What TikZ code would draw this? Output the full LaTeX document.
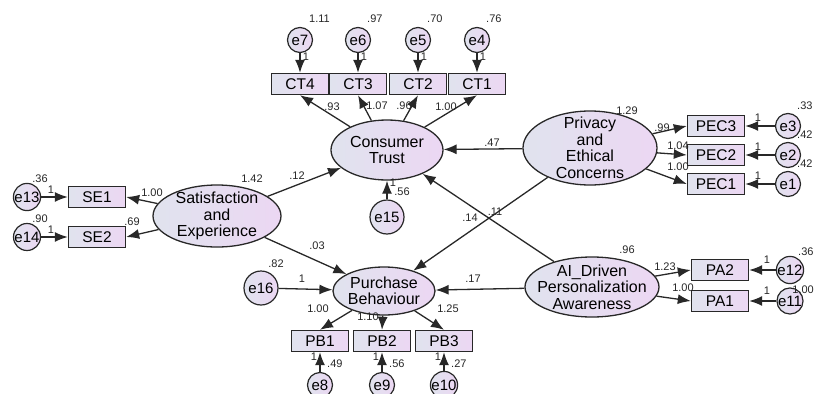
\documentclass[tikz,border=0pt]{standalone}
\usepackage{fontspec}
\setmainfont{Liberation Sans}
\usetikzlibrary{arrows.meta,shapes.geometric}
\definecolor{fillL}{RGB}{224,227,238}
\definecolor{fillR}{RGB}{236,215,243}
\definecolor{edge}{RGB}{40,40,40}

\begin{document}
\begin{tikzpicture}[x=1pt,y=-1pt,
  latent/.style={ellipse,draw=edge,line width=1.3pt,left color=fillL,right color=fillR,
    inner sep=0pt,label={[font=\fontsize{16}{16.5}\selectfont,align=center]center:#1}},
  indicator/.style={rectangle,draw=edge,line width=1.4pt,left color=fillL,right color=fillR,
    minimum width=57pt,minimum height=21pt,inner sep=0pt,font=\fontsize{15.5}{15.5}\selectfont},
  errvar/.style={circle,draw=edge,line width=1.2pt,left color=fillL,right color=fillR,
    minimum size=25pt,inner sep=0pt,font=\fontsize{15}{15}\selectfont},
  regpath/.style={-{Latex[length=13pt,width=10pt]},line width=1.3pt,draw=edge},
  num/.style={font=\fontsize{11}{11}\selectfont,inner sep=0pt,text=black!85}]
\useasboundingbox (0,0) rectangle (815,394);

% latent variables
\node[latent={Consumer\\Trust},minimum width=112pt,minimum height=60pt] (ct) at (387,150) {};
\node[latent={Satisfaction\\and\\Experience},minimum width=128pt,minimum height=62pt] (se) at (217,216) {};
\node[latent={Privacy\\and\\Ethical\\Concerns},minimum width=134pt,minimum height=74pt] (pec) at (590,148) {};
\node[latent={AI\_Driven\\Personalization\\Awareness},minimum width=134pt,minimum height=60pt] (ai) at (592,287) {};
\node[latent={Purchase\\Behaviour},minimum width=102pt,minimum height=48pt] (pb) at (384,291) {};

% residuals of the latents
\node[errvar,minimum size=34pt] (e15) at (387,217) {e15};
\node[errvar,minimum size=34pt] (e16) at (261,288) {e16};

% structural paths
\draw[regpath] (se) -- (ct);
\draw[regpath] (se) -- (pb);
\draw[regpath] (pec) -- (ct);
\draw[regpath] (pec) -- (pb);
\draw[regpath] (ai) -- (ct);
\draw[regpath] (ai) -- (pb);
\draw[regpath] (e15) -- (ct);
\draw[regpath] (e16) -- (pb);

% Consumer Trust items
\foreach \i/\x/\e/\v in {1/477/4/.76,2/418/5/.70,3/358/6/.97,4/300/7/1.11}
{
\node[indicator] (ct\i) at (\x,84) {CT\i};
\node[errvar] (e\e) at (\x,40) {e\e};
\draw[regpath] (e\e) -- (ct\i);
\draw[regpath] (ct) -- (ct\i.south);
\node[num] (one\e) at (\x+6,57) {1};
\node[num,anchor=west] (var\e) at (\x+9,19) {\v};
}

% Privacy items
\foreach \i/\y/\e/\v in {3/126/3/.33,2/155/2/.42,1/184/1/.42}
{
\node[indicator] (pec\i) at (716,\y) {PEC\i};
\node[errvar] (e\e) at (788,\y) {e\e};
\draw[regpath] (e\e) -- (pec\i);
\draw[regpath] (pec) -- (pec\i.west);
\node[num] (one\e) at (758,\y-8) {1};
\node[num,anchor=west] (var\e) at (797,\y-20) {\v};
}

% AI items
\foreach \i/\y/\e in {2/270/12,1/301/11}
{
\node[indicator] (pa\i) at (720,\y) {PA\i};
\node[errvar] (e\e) at (790,\y) {e\e};
\draw[regpath] (e\e) -- (pa\i);
\draw[regpath] (ai) -- (pa\i.west);
\node[num] (one\e) at (767,\y-10) {1};
}
\node[num,anchor=west] (var12) at (798,252) {.36};
\node[num,anchor=east] (var11) at (814,290) {1.00};

% Purchase items
\foreach \i/\x/\e/\v in {1/320/8/.49,2/382/9/.56,3/444/10/.27}
{
\node[indicator] (pb\i) at (\x,341) {PB\i};
\node[errvar] (e\e) at (\x,385) {e\e};
\draw[regpath] (e\e) -- (pb\i);
\draw[regpath] (pb) -- (pb\i.north);
\node[num] (one\e) at (\x-6,357) {1};
\node[num,anchor=west] (var\e) at (\x+7,364) {\v};
}

% Satisfaction items
\foreach \i/\y/\e/\v in {1/197/13/.36,2/237/14/.90}
{
\node[indicator] (se\i) at (97,\y) {SE\i};
\node[errvar] (e\e) at (27,\y) {e\e};
\draw[regpath] (e\e) -- (se\i);
\draw[regpath] (se) -- (se\i.east);
\node[num] (one\e) at (51,\y-7) {1};
\node[num] (var\e) at (40,\y-18) {\v};
}

% estimates
\foreach \x/\y/\t [count=\k] in {332/107/.93,377/106/1.07,404/106/.96,446/107/1.00,
  152/193/1.00,132/222/.69,662/128/.99,678/146/1.04,678/167/1.00,665/267/1.23,683/288/1.00,
  318/309/1.00,368/317/1.10,448/309/1.25,252/179/1.42,297/176/.12,317/246/.03,492/143/.47,
  470/218/.14,495/212/.11,627/111/1.29,627/250/.96,276/264/.82,473/279/.17,402/192/.56,
  393/183/1,302/279/1}
\node[num] (w\k) at (\x,\y) {\t};
\end{tikzpicture}
\end{document}
